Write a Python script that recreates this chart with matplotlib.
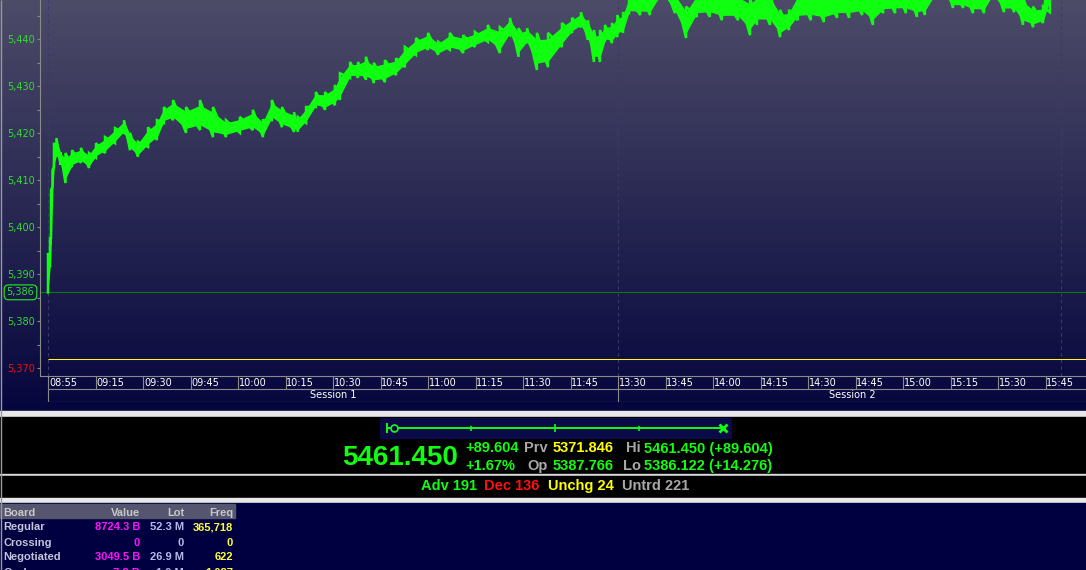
import numpy as np
import matplotlib.pyplot as plt
from matplotlib.patches import Rectangle

W, H = 1086, 570

# ---- intraday index (trading minutes, low / high band)
sess_min = [0.0, 0.63, 0.95, 1.42, 1.89, 2.68, 3.95, 5.53, 7.58, 10.42, 12.95,
            15.16, 18.0, 21.16, 24.0, 25.9, 28.4, 31.6, 34.4, 36.6, 39.5, 43.6,
            48.0, 52.1, 56.2, 60.6, 64.7, 67.9, 70.7, 73.9, 77.7, 78.9, 81.5,
            84.6, 87.5, 90.6, 92.2, 95.4, 97.9, 100.4, 102.9, 106.4, 109.9,
            112.7, 116.2, 120.0, 123.2, 126.9, 131.1, 134.8, 138.9, 142.7,
            145.9, 148.6, 151.3, 154.4, 157.9, 162.3, 165.5, 168.3, 170.5,
            172.4, 174.3, 175.9, 178.1, 179.8, 181.6, 183.5, 187.0, 190.1,
            193.9, 198.0, 201.5, 204.9, 209.0, 212.8, 217.9, 221.7, 223.9,
            228.0, 231.2, 234.0, 236.8, 240.9, 245.0, 249.2, 253.0, 257.1,
            260.5, 263.7, 267.5, 270.9, 274.4, 276.9, 280.1, 282.9, 285.8,
            289.0, 292.1, 295.6, 298.4, 301.9, 305.1, 307.9, 311.1, 314.2, 316.4]
price_lo = [5386.1, 5391.5, 5397.7, 5408.6, 5412.8, 5415.0, 5413.3, 5409.4, 5412.8,
            5413.7, 5412.6, 5414.8, 5415.8, 5417.9, 5420.1, 5416.4, 5415.0, 5417.1,
            5418.6, 5422.2, 5422.8, 5420.1, 5420.7, 5419.2, 5419.2, 5420.1, 5420.7,
            5419.2, 5422.8, 5421.3, 5420.3, 5420.3, 5422.2, 5425.6, 5425.0, 5426.0,
            5427.1, 5431.8, 5431.8, 5431.4, 5430.7, 5430.9, 5432.4, 5434.1, 5436.7,
            5437.8, 5436.7, 5437.8, 5437.1, 5438.4, 5439.5, 5437.1, 5440.9, 5436.3,
            5439.2, 5433.5, 5434.1, 5438.4, 5441.4, 5442.6, 5439.9, 5435.2, 5435.2,
            5439.5, 5439.2, 5440.5, 5441.4, 5445.6, 5445.2, 5445.2, 5449.5, 5445.6,
            5440.3, 5444.8, 5444.8, 5444.1, 5444.1, 5440.9, 5443.1, 5443.1, 5440.5,
            5442.0, 5444.1, 5444.1, 5443.7, 5444.6, 5444.6, 5445.2, 5443.1, 5445.6,
            5445.6, 5445.6, 5444.8, 5445.2, 5449.0, 5449.0, 5446.7, 5446.7, 5445.6,
            5445.6, 5449.0, 5445.8, 5445.8, 5443.1, 5442.6, 5443.5, 5445.8]
price_hi = [5394.5, 5397.7, 5407.9, 5412.2, 5418.0, 5419.0, 5416.0, 5415.8, 5416.4,
            5416.9, 5415.8, 5417.9, 5419.2, 5421.1, 5422.8, 5420.1, 5418.2, 5421.3,
            5422.8, 5425.6, 5427.1, 5425.6, 5427.1, 5425.6, 5422.8, 5423.5, 5425.0,
            5422.8, 5427.1, 5425.6, 5424.5, 5423.5, 5425.6, 5428.8, 5428.8, 5430.3,
            5432.8, 5435.2, 5435.2, 5436.3, 5435.0, 5435.6, 5436.0, 5438.4, 5440.3,
            5441.4, 5439.5, 5441.4, 5440.9, 5441.6, 5443.1, 5442.6, 5444.6, 5442.4,
            5442.4, 5441.4, 5441.4, 5443.5, 5444.6, 5445.8, 5444.1, 5442.0, 5442.0,
            5443.1, 5443.5, 5445.2, 5445.6, 5449.0, 5450.0, 5450.0, 5453.0, 5450.0,
            5447.0, 5450.0, 5451.0, 5450.0, 5450.0, 5449.0, 5450.0, 5450.0, 5446.3,
            5446.3, 5450.0, 5451.0, 5450.0, 5451.0, 5451.0, 5451.0, 5450.0, 5451.0,
            5452.0, 5452.0, 5451.0, 5451.0, 5453.0, 5453.0, 5451.0, 5451.0, 5451.0,
            5451.0, 5453.0, 5451.0, 5451.0, 5449.0, 5447.0, 5447.0, 5461.5]

time_ticks = [0, 15, 30, 45, 60, 75, 90, 105, 120, 135, 150, 165,
              180, 195, 210, 225, 240, 255, 270, 285, 300, 315]
time_labels = ["08:55", "09:15", "09:30", "09:45", "10:00", "10:15", "10:30",
               "10:45", "11:00", "11:15", "11:30", "11:45", "13:30", "13:45",
               "14:00", "14:15", "14:30", "14:45", "15:00", "15:15", "15:30", "15:45"]
session_names = ["Session 1", "Session 2"]
session_start = [0, 180]
session_close = [180, 320]

last_px = 5461.450
prev_px = 5371.846
open_px = 5387.766
high_px = 5461.450
low_px = 5386.122
chg_pct = 1.67
breadth_names = ["Adv", "Dec", "Unchg", "Untrd"]
breadth_counts = [191, 136, 24, 221]

boards = ["Regular", "Crossing", "Negotiated", "Cash"]
board_value = ["8724.3 B", "0", "3049.5 B", "7.8 B"]
board_lot = ["52.3 M", "0", "26.9 M", "1.9 M"]
board_freq = ["365,718", "0", "622", "1,087"]

# ---- colours
LIME = '#10ff10'
GREEN_TXT = '#30dd30'
GRAY_LN = '#8a8a8a'
BOLD = ['Liberation Sans', 'DejaVu Sans']

fig = plt.figure(figsize=(W / 100, H / 100), dpi=100)
fig.patch.set_facecolor('#000040')

# background layer in pixel coordinates
bg = fig.add_axes([0, 0, 1, 1])
bg.set_xlim(0, W)
bg.set_ylim(H, 0)
bg.axis('off')
top = np.array([76, 75, 104]) / 255
bot = np.array([6, 6, 62]) / 255
k = np.linspace(0, 1, 256)[:, None, None]
grad = top * (1 - k) + bot * k
bg.imshow(grad, extent=(0, W, 411, 0), aspect='auto', zorder=0)
bg.add_patch(Rectangle((0, 411), W, 6, color='#e8e8e8', zorder=1))
bg.add_patch(Rectangle((0, 417), W, 57, color='black', zorder=1))
bg.add_patch(Rectangle((0, 474), W, 2, color='#d8d8d8', zorder=1))
bg.add_patch(Rectangle((0, 476), W, 22, color='black', zorder=1))
bg.add_patch(Rectangle((0, 498), W, 5, color='#e8e8e8', zorder=1))
bg.add_patch(Rectangle((0, 503), W, 67, color='#000040', zorder=1))
bg.add_patch(Rectangle((0, 504), 235, 14, color='#55556f', zorder=2))
bg.vlines(0.5, 0, H, color='#9a9a9a', lw=1, zorder=3)

# ---- main chart
ppm = 47.5 / 15  # pixels per trading minute
x0 = -8 / ppm
x1 = (W - 48) / ppm
ax = fig.add_axes([40 / W, 1 - 376 / H, 1046 / W, 376 / H])
ax.patch.set_alpha(0)
ax.set_xlim(x0, x1)
ax.set_ylim(5368.3, 5448.4)
for s in ['top', 'right']:
    ax.spines[s].set_visible(False)
for s in ['left', 'bottom']:
    ax.spines[s].set_color(GRAY_LN)
    ax.spines[s].set_linewidth(0.8)
ax.set_xticks([])
major = list(range(5370, 5441, 10))
ax.set_yticks(major)
ax.set_yticks(list(range(5375, 5450, 10)), minor=True)
ax.set_yticklabels([f"{v:,}" for v in major], fontsize=7, family='DejaVu Sans')
for lbl, v in zip(ax.get_yticklabels(), major):
    lbl.set_color('#ee1111' if v < prev_px else GREEN_TXT)
ax.tick_params(axis='y', which='both', length=2, width=0.8, color=GRAY_LN, pad=1.8)

for t in [session_start[0], session_start[1], session_close[1]]:
    ax.axvline(t, color='#3a3a68', lw=0.8, ls=(0, (3, 3)), zorder=1)
ax.plot([x0, x1], [low_px, low_px], color='#0c7a0c', lw=0.75, zorder=2,
        solid_capstyle='butt')
ax.plot([0, x1], [prev_px, prev_px], color='#ffff10', lw=0.75, zorder=2,
        solid_capstyle='butt')

# noisy price trace: solid core plus vertical strokes reaching each bin's low/high
lo = np.array(price_lo)
hi = np.array(price_hi)
span = hi - lo
ax.fill_between(sess_min, lo + 0.2 * span, hi - 0.2 * span, color=LIME, lw=1.0, zorder=3)
zig_t = np.repeat(sess_min, 2)
zig_v = np.column_stack([lo, hi]).ravel()
ax.plot(zig_t, zig_v, color=LIME, lw=1.8, solid_joinstyle='miter', zorder=3)

ax.text(-19.5 / 1046, low_px, f"{low_px:,.0f}", transform=ax.get_yaxis_transform(),
        ha='center', va='center', fontsize=7, color=GREEN_TXT, family='DejaVu Sans',
        bbox=dict(boxstyle='round,pad=0.25,rounding_size=0.45', fc='none',
                  ec='#22ee22', lw=0.8))

# ---- time / session strip
axb = fig.add_axes([40 / W, 1 - 402 / H, 1046 / W, 26 / H])
axb.patch.set_alpha(0)
axb.set_xlim(x0, x1)
axb.set_ylim(26, 0)
axb.axis('off')
axb.hlines([13, 25.5], 0, x1, color=GRAY_LN, lw=0.8)
axb.vlines(time_ticks, 0, 13, color=GRAY_LN, lw=0.8)
axb.vlines(session_start, 13, 25.5, color=GRAY_LN, lw=0.8)
for t, lab in zip(time_ticks, time_labels):
    axb.text(t + 0.3, 6.8, lab, color='white', fontsize=7, family='DejaVu Sans',
             ha='left', va='center')
for s0, s1, name in zip(session_start, session_close, session_names):
    right = min(s1 + 8, x1) if s0 else s1
    axb.text((s0 + right) / 2, 19.5, name, color='white', fontsize=7,
             family='DejaVu Sans', ha='center', va='center')

# ---- quote panel
bg.add_patch(Rectangle((380, 418), 351, 20, color='#0a0a48', zorder=2))


def bar_x(v):
    return 387 + (v - low_px) / (high_px - low_px) * 336


bg.hlines(428, bar_x(low_px), bar_x(high_px), color=LIME, lw=1.4, zorder=3)
bg.vlines(bar_x(low_px), 423, 433, color=LIME, lw=1.4, zorder=3)
for q, hgt in zip([0.25, 0.5, 0.75], [2.5, 4, 2.5]):
    bg.vlines(bar_x(low_px + q * (high_px - low_px)), 428 - hgt, 428 + hgt,
              color=LIME, lw=1.2, zorder=3)
bg.plot(bar_x(open_px), 428, 'o', ms=5, mfc='#0a0a48', mec=LIME, mew=1.2, zorder=4)
bg.plot(bar_x(last_px), 428, 'x', ms=6, mec=LIME, mew=2, zorder=4)

bg.text(342, 465, f"{last_px:.3f}", color=LIME, fontsize=20, fontweight='bold',
        family=BOLD, ha='left', va='baseline', zorder=5)
chg = last_px - prev_px
row1 = 452.5
row2 = 470
fs = 10.5
bg.text(465, row1, f"{chg:+.3f}", color=LIME, fontsize=fs, fontweight='bold',
        family=BOLD, va='baseline', zorder=5)
bg.text(465, row2, f"{chg_pct:+.2f}%", color=LIME, fontsize=fs, fontweight='bold',
        family=BOLD, va='baseline', zorder=5)
bg.text(548, row1, "Prv", color='#a8a8a8', fontsize=fs, fontweight='bold',
        family=BOLD, ha='right', va='baseline', zorder=5)
bg.text(553, row1, f"{prev_px:.3f}", color='#ffff00', fontsize=fs, fontweight='bold',
        family=BOLD, va='baseline', zorder=5)
bg.text(548, row2, "Op", color='#a8a8a8', fontsize=fs, fontweight='bold',
        family=BOLD, ha='right', va='baseline', zorder=5)
bg.text(553, row2, f"{open_px:.3f}", color=LIME, fontsize=fs, fontweight='bold',
        family=BOLD, va='baseline', zorder=5)
bg.text(641, row1, "Hi", color='#a8a8a8', fontsize=fs, fontweight='bold',
        family=BOLD, ha='right', va='baseline', zorder=5)
bg.text(644, row1, f"{high_px:.3f} ({high_px - prev_px:+.3f})", color=LIME,
        fontsize=fs, fontweight='bold', family=BOLD, va='baseline', zorder=5)
bg.text(641, row2, "Lo", color='#a8a8a8', fontsize=fs, fontweight='bold',
        family=BOLD, ha='right', va='baseline', zorder=5)
bg.text(644, row2, f"{low_px:.3f} ({low_px - prev_px:+.3f})", color=LIME,
        fontsize=fs, fontweight='bold', family=BOLD, va='baseline', zorder=5)

breadth_x = [421, 484, 548, 622]
breadth_col = [LIME, '#ff1010', '#ffff00', '#a8a8a8']
for bx, name, cnt, col in zip(breadth_x, breadth_names, breadth_counts, breadth_col):
    bg.text(bx, 490, f"{name} {cnt}", color=col, fontsize=fs, fontweight='bold',
            family=BOLD, va='baseline', zorder=5)

# ---- board table
tfs = 8
bg.text(3, 515.5, "Board", color='#c8c8c8', fontsize=tfs, fontweight='bold',
        family=BOLD, va='baseline', zorder=5)
for xr, head in zip([140, 184, 233], ["Value", "Lot", "Freq"]):
    bg.text(xr, 515.5, head, color='#c8c8c8', fontsize=tfs, fontweight='bold',
            family=BOLD, ha='right', va='baseline', zorder=5)
for i, (b, v, l, f) in enumerate(zip(boards, board_value, board_lot, board_freq)):
    yb = 530.5 + 15 * i
    bg.text(3, yb, b, color='#c4c4dc', fontsize=tfs, fontweight='bold',
            family=BOLD, va='baseline', zorder=5)
    bg.text(140, yb, v, color='#ff10ff', fontsize=tfs, fontweight='bold',
            family=BOLD, ha='right', va='baseline', zorder=5)
    bg.text(184, yb, l, color='#b8b8e8', fontsize=tfs, fontweight='bold',
            family=BOLD, ha='right', va='baseline', zorder=5)
    bg.text(233, yb, f, color='#ffff30', fontsize=tfs, fontweight='bold',
            family=BOLD, ha='right', va='baseline', zorder=5)

fig.savefig('out.png', dpi=100, facecolor=fig.get_facecolor())
